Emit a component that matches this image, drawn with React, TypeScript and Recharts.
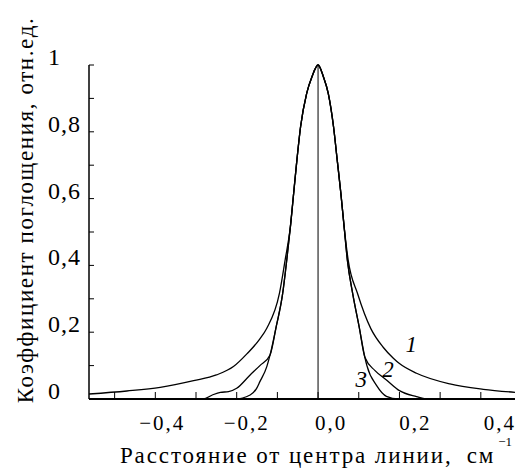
import React from "react";
import {
  LineChart,
  Line,
  XAxis,
  YAxis,
  ReferenceLine,
  ReferenceDot,
  Label,
} from "recharts";

// Кривая 1 (самые широкие крылья)
const curve1X = [
  -0.563, -0.47, -0.388, -0.306, -0.25, -0.208, -0.175, -0.143, -0.126, -0.095,
  -0.081, -0.068, -0.06, -0.052, -0.043, -0.028, -0.015, 0, 0.013, 0.025, 0.038,
  0.047, 0.056, 0.064, 0.074, 0.097, 0.13, 0.16, 0.185, 0.2, 0.242, 0.324, 0.406,
  0.484,
];
const curve1Y = [
  0.015, 0.024, 0.035, 0.055, 0.072, 0.097, 0.135, 0.18, 0.212, 0.316,
  0.416, 0.516, 0.616, 0.716, 0.815, 0.915, 0.965, 1, 0.965, 0.915, 0.815,
  0.716, 0.616, 0.516, 0.416, 0.316, 0.21, 0.155, 0.122, 0.106, 0.077, 0.045, 0.029,
  0.02,
];

// Кривая 2
const curve2X = [
  -0.563, -0.282, -0.26, -0.24, -0.22, -0.2, -0.167, -0.143, -0.118, -0.103,
  -0.087, -0.077, -0.068, -0.06, -0.052, -0.043, -0.028, -0.015, 0, 0.013, 0.025,
  0.038, 0.047, 0.056, 0.064, 0.072, 0.085, 0.101, 0.115, 0.14, 0.168, 0.2, 0.242,
  0.265, 0.484,
];
const curve2Y = [
  0, 0, 0.012, 0.02, 0.022, 0.032, 0.072, 0.1, 0.132, 0.216,
  0.316, 0.416, 0.516, 0.616, 0.716, 0.815, 0.915, 0.965, 1, 0.965, 0.915,
  0.815, 0.716, 0.616, 0.516, 0.416, 0.316, 0.216, 0.125, 0.085, 0.057, 0.025, 0.007,
  0, 0,
];

// Кривая 3 (самая узкая у основания)
const curve3X = [
  -0.563, -0.204, -0.167, -0.151, -0.143, -0.126, -0.118, -0.103, -0.087, -0.077,
  -0.068, -0.06, -0.052, -0.043, -0.028, -0.015, 0, 0.013, 0.025, 0.038, 0.047,
  0.056, 0.064, 0.072, 0.085, 0.101, 0.115, 0.12, 0.144, 0.168, 0.197, 0.484,
];
const curve3Y = [
  0, 0, 0.012, 0.032, 0.052, 0.097, 0.132, 0.216, 0.316, 0.416,
  0.516, 0.616, 0.716, 0.815, 0.915, 0.965, 1, 0.965, 0.915, 0.815, 0.716,
  0.616, 0.516, 0.416, 0.316, 0.216, 0.125, 0.1, 0.04, 0.008, 0, 0,
];

const xTicks = [-0.5, -0.4, -0.3, -0.2, -0.1, 0, 0.1, 0.2, 0.3, 0.4];
const yTicks = [0, 0.1, 0.2, 0.3, 0.4, 0.5, 0.6, 0.7, 0.8, 0.9, 1];

// номера кривых: [x, y, текст]
const curveLabels: [number, number, string][] = [
  [0.229, 0.162, "1"],
  [0.172, 0.087, "2"],
  [0.106, 0.057, "3"],
];

const serif = { fontFamily: "Liberation Serif" };

const toRows = (xs: number[], ys: number[]) =>
  xs.map((x, i) => ({ x, y: ys[i] }));

const fmt = (v: number) => {
  if (Math.abs(v) < 1e-9) return "0,0";
  return v.toFixed(1).replace(".", ",").replace("-", "\u2212");
};

function XTick(props: any) {
  const { x, y, payload } = props;
  const v = payload.value;
  if (Math.round(v * 10) % 2 !== 0) return null;
  return (
    <text
      x={x + 13 + v * 15}
      y={y}
      textAnchor="middle"
      style={serif}
      fontSize={21}
      letterSpacing={2}
      fill="#000"
    >
      {fmt(v)}
    </text>
  );
}

function YTick(props: any) {
  const { x, y, payload } = props;
  const v = payload.value;
  if (Math.round(v * 10) % 2 !== 0) return null;
  const text = v === 0 ? "0" : v === 1 ? "1" : v.toFixed(1).replace(".", ",");
  return (
    <text x={x} y={y} textAnchor="start" style={serif} fontSize={24} letterSpacing={1} fill="#000">
      {text}
    </text>
  );
}

function XTitle(props: any) {
  const { viewBox } = props;
  const cx = viewBox.x + viewBox.width / 2 + 14;
  return (
    <text x={cx} y={463} textAnchor="middle" style={serif} fontSize={23} letterSpacing={1.9} fill="#000">
      Расстояние от центра линии,
      <tspan dx={14}>см</tspan>
      <tspan dx={3} dy={-17} fontSize={13} letterSpacing={0}>
        {"\u22121"}
      </tspan>
    </text>
  );
}

function YTitle() {
  return (
    <text
      x={33}
      y={210}
      transform="rotate(-90, 33, 210)"
      textAnchor="middle"
      style={serif}
      fontSize={23}
      letterSpacing={1.6}
      fill="#000"
    >
      Коэффициент поглощения, отн.ед.
    </text>
  );
}

export default function App() {
  return (
    <div style={{ position: "absolute", left: 0, top: 0, background: "#fff" }}>
      <LineChart
        width={515}
        height={469}
        margin={{ top: 65, right: 0, bottom: 0, left: 0 }}
      >
        <XAxis
          type="number"
          dataKey="x"
          domain={[-0.563, 0.484]}
          ticks={xTicks}
          allowDataOverflow
          height={70}
          tickSize={-7}
          tickMargin={38}
          tick={<XTick />}
          axisLine={{ stroke: "#000", strokeWidth: 2 }}
          tickLine={{ stroke: "#000", strokeWidth: 1 }}
        >
          <Label content={<XTitle />} />
        </XAxis>
        <YAxis
          type="number"
          dataKey="y"
          domain={[0, 1]}
          ticks={yTicks}
          width={89}
          tickSize={-5}
          tickMargin={46}
          tick={<YTick />}
          axisLine={{ stroke: "#000", strokeWidth: 1.5 }}
          tickLine={{ stroke: "#000", strokeWidth: 1 }}
        >
          <Label content={<YTitle />} />
        </YAxis>
        <ReferenceLine x={0} stroke="#555" strokeWidth={1.5} />
        <Line
          data={toRows(curve1X, curve1Y)}
          dataKey="y"
          type="monotone"
          stroke="#000"
          strokeWidth={1.3}
          dot={false}
          isAnimationActive={false}
        />
        <Line
          data={toRows(curve2X, curve2Y)}
          dataKey="y"
          type="monotone"
          stroke="#000"
          strokeWidth={1.3}
          dot={false}
          isAnimationActive={false}
        />
        <Line
          data={toRows(curve3X, curve3Y)}
          dataKey="y"
          type="monotone"
          stroke="#000"
          strokeWidth={1.3}
          dot={false}
          isAnimationActive={false}
        />
        {curveLabels.map(([lx, ly, t]) => (
          <ReferenceDot
            key={t}
            x={lx}
            y={ly}
            r={0}
            shape={(p: any) => (
              <text
                x={p.cx}
                y={p.cy}
                textAnchor="middle"
                dominantBaseline="central"
                style={serif}
                fontStyle="italic"
                fontSize={23}
                fill="#000"
              >
                {t}
              </text>
            )}
          />
        ))}
      </LineChart>
    </div>
  );
}
